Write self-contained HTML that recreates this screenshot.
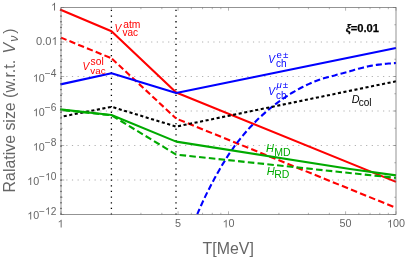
<!DOCTYPE html>
<html><head><meta charset="utf-8"><title>plot</title>
<style>
html,body{margin:0;padding:0;background:#fff;}
svg{display:block;}
text{font-family:"Liberation Sans",sans-serif;}
.tk{font-size:10.8px;fill:#666;}
.ax{font-size:15.9px;fill:#666;}
.it{font-style:italic;}
</style></head><body>
<svg width="407" height="260" viewBox="0 0 407 260" style="will-change:transform">
<defs><mask id="m" maskUnits="userSpaceOnUse" x="0" y="0" width="407" height="260"><rect width="407" height="260" fill="#fff"/></mask></defs>
<rect width="407" height="260" fill="#fff"/>
<g mask="url(#m)">
<g stroke="#b0b0b0" stroke-width="1" stroke-dasharray="1.2 4.457" stroke-dashoffset="-0.1" fill="none">
<line x1="60.5" y1="42.00" x2="396" y2="42.00"/>
<line x1="60.5" y1="76.50" x2="396" y2="76.50"/>
<line x1="60.5" y1="111.00" x2="396" y2="111.00"/>
<line x1="60.5" y1="145.50" x2="396" y2="145.50"/>
<line x1="60.5" y1="180.00" x2="396" y2="180.00"/>
</g>
<g stroke="#000" stroke-width="1.3" stroke-dasharray="1.3 4.357" fill="none">
<line x1="61" y1="214.75" x2="61" y2="7.5" stroke-width="1"/>
<line x1="111.4" y1="214.75" x2="111.4" y2="7.5"/>
<line x1="176" y1="214.75" x2="176" y2="7.5"/>
</g>
<g fill="none" stroke-width="2.1" stroke-linejoin="round">
<path stroke="#f00" d="M60,9.43 L111.5,31.2 L176.2,92.5 L396,181.9"/>
<path stroke="#f00" stroke-dasharray="6.3 3.15" stroke-dashoffset="0.35" d="M61,37.65 L111.5,58.3"/>
<path stroke="#f00" stroke-dasharray="6.15 3.05" stroke-dashoffset="-0.7" d="M111.5,58.3 L176.2,118.6"/>
<path stroke="#f00" stroke-dasharray="6.55 3.235" stroke-dashoffset="-2.7" d="M176.2,118.6 L396,207.8"/>
<path stroke="#00f" d="M60.5,84.4 L111.5,73.3 L176.2,93 L396,48"/>
<path stroke="#00f" stroke-dasharray="6.1 3.0" stroke-dashoffset="0.4" d="M197.3,214.1 L199.3,209.5 L201.3,205.0 L203.3,200.6 L205.3,196.4 L207.3,192.3 L209.3,188.4 L211.3,184.5 L213.3,180.8 L215.3,177.1 L217.3,173.6 L219.2,170.2 L221.1,166.8 L223.0,163.6 L225.0,160.5 L226.9,157.4 L228.8,154.4 L230.7,151.6 L232.7,148.8 L234.6,146.0 L236.6,143.4 L238.6,140.8 L240.6,138.3 L242.6,135.9 L244.6,133.5 L246.6,131.2 L248.6,128.9 L250.6,126.8 L252.6,124.7 L254.6,122.6 L256.6,120.6 L258.6,118.6 L260.6,116.7 L262.6,114.9 L264.6,113.1 L266.6,111.3 L268.6,109.6 L270.6,108.0 L272.6,106.4 L274.6,104.8 L276.6,103.3 L278.6,101.8 L280.6,100.4 L282.6,99.0 L284.6,97.6 L286.6,96.3 L288.6,95.0 L290.6,93.7 L292.6,92.5 L294.6,91.4 L296.6,90.2 L298.6,89.1 L300.6,88.0 L302.6,87.0 L304.6,86.0 L306.6,85.0 L308.6,84.1 L310.6,83.2 L312.6,82.3 L314.6,81.5 L316.6,80.7 L318.6,80.0 L320.6,79.3 L322.6,78.7 L324.6,78.1 L326.6,77.5 L328.6,76.9 L330.6,76.4 L332.6,75.9 L334.6,75.4 L336.6,74.8 L338.6,74.3 L340.6,73.8 L342.6,73.3 L344.6,72.7 L346.6,72.2 L348.6,71.6 L350.6,71.0 L352.6,70.4 L354.6,69.8 L356.6,69.3 L358.6,68.7 L360.6,68.2 L362.6,67.7 L364.6,67.2 L366.6,66.7 L368.6,66.3 L370.6,65.9 L372.6,65.5 L374.6,65.2 L376.6,64.9 L378.6,64.6 L380.6,64.4 L382.6,64.1 L384.6,63.9 L386.6,63.7 L388.6,63.5 L390.6,63.4 L392.6,63.2 L394.6,63.1 L396.0,63.0"/>
<path stroke="#000" stroke-dasharray="3.1 2.53" stroke-dashoffset="-2.75" d="M61,116.8 L111.5,106.8 L176.2,126.6 L396,81.3"/>
<path stroke="#00aa00" d="M60,109.4 L111.5,115 L176.2,141.6 L350,169 L396,175.4"/>
<path stroke="#00aa00" stroke-dasharray="6.55 3.25" stroke-dashoffset="-2.5" d="M61,109.9 L111.5,115.3 L176.2,154.6 L396,177.9"/>
</g>
<g stroke="#666" stroke-width="0.5" fill="none">
<line x1="61" y1="7.50" x2="64.2" y2="7.50"/>
<line x1="396" y1="7.50" x2="392.8" y2="7.50"/>
<line x1="61" y1="24.75" x2="62.7" y2="24.75"/>
<line x1="396" y1="24.75" x2="394.3" y2="24.75"/>
<line x1="61" y1="42.00" x2="64.2" y2="42.00"/>
<line x1="396" y1="42.00" x2="392.8" y2="42.00"/>
<line x1="61" y1="59.25" x2="62.7" y2="59.25"/>
<line x1="396" y1="59.25" x2="394.3" y2="59.25"/>
<line x1="61" y1="76.50" x2="64.2" y2="76.50"/>
<line x1="396" y1="76.50" x2="392.8" y2="76.50"/>
<line x1="61" y1="93.75" x2="62.7" y2="93.75"/>
<line x1="396" y1="93.75" x2="394.3" y2="93.75"/>
<line x1="61" y1="111.00" x2="64.2" y2="111.00"/>
<line x1="396" y1="111.00" x2="392.8" y2="111.00"/>
<line x1="61" y1="128.25" x2="62.7" y2="128.25"/>
<line x1="396" y1="128.25" x2="394.3" y2="128.25"/>
<line x1="61" y1="145.50" x2="64.2" y2="145.50"/>
<line x1="396" y1="145.50" x2="392.8" y2="145.50"/>
<line x1="61" y1="162.75" x2="62.7" y2="162.75"/>
<line x1="396" y1="162.75" x2="394.3" y2="162.75"/>
<line x1="61" y1="180.00" x2="64.2" y2="180.00"/>
<line x1="396" y1="180.00" x2="392.8" y2="180.00"/>
<line x1="61" y1="197.25" x2="62.7" y2="197.25"/>
<line x1="396" y1="197.25" x2="394.3" y2="197.25"/>
<line x1="61" y1="214.50" x2="64.2" y2="214.50"/>
<line x1="396" y1="214.50" x2="392.8" y2="214.50"/>
<line x1="61.00" y1="214.5" x2="61.00" y2="211.3"/>
<line x1="61.00" y1="7.5" x2="61.00" y2="10.7"/>
<line x1="111.42" y1="214.5" x2="111.42" y2="212.8"/>
<line x1="111.42" y1="7.5" x2="111.42" y2="9.2"/>
<line x1="140.92" y1="214.5" x2="140.92" y2="212.8"/>
<line x1="140.92" y1="7.5" x2="140.92" y2="9.2"/>
<line x1="161.85" y1="214.5" x2="161.85" y2="212.8"/>
<line x1="161.85" y1="7.5" x2="161.85" y2="9.2"/>
<line x1="178.08" y1="214.5" x2="178.08" y2="211.3"/>
<line x1="178.08" y1="7.5" x2="178.08" y2="10.7"/>
<line x1="191.34" y1="214.5" x2="191.34" y2="212.8"/>
<line x1="191.34" y1="7.5" x2="191.34" y2="9.2"/>
<line x1="202.55" y1="214.5" x2="202.55" y2="212.8"/>
<line x1="202.55" y1="7.5" x2="202.55" y2="9.2"/>
<line x1="212.27" y1="214.5" x2="212.27" y2="212.8"/>
<line x1="212.27" y1="7.5" x2="212.27" y2="9.2"/>
<line x1="220.84" y1="214.5" x2="220.84" y2="212.8"/>
<line x1="220.84" y1="7.5" x2="220.84" y2="9.2"/>
<line x1="228.50" y1="214.5" x2="228.50" y2="211.3"/>
<line x1="228.50" y1="7.5" x2="228.50" y2="10.7"/>
<line x1="278.92" y1="214.5" x2="278.92" y2="212.8"/>
<line x1="278.92" y1="7.5" x2="278.92" y2="9.2"/>
<line x1="308.42" y1="214.5" x2="308.42" y2="212.8"/>
<line x1="308.42" y1="7.5" x2="308.42" y2="9.2"/>
<line x1="329.35" y1="214.5" x2="329.35" y2="212.8"/>
<line x1="329.35" y1="7.5" x2="329.35" y2="9.2"/>
<line x1="345.58" y1="214.5" x2="345.58" y2="211.3"/>
<line x1="345.58" y1="7.5" x2="345.58" y2="10.7"/>
<line x1="358.84" y1="214.5" x2="358.84" y2="212.8"/>
<line x1="358.84" y1="7.5" x2="358.84" y2="9.2"/>
<line x1="370.05" y1="214.5" x2="370.05" y2="212.8"/>
<line x1="370.05" y1="7.5" x2="370.05" y2="9.2"/>
<line x1="379.77" y1="214.5" x2="379.77" y2="212.8"/>
<line x1="379.77" y1="7.5" x2="379.77" y2="9.2"/>
<line x1="388.34" y1="214.5" x2="388.34" y2="212.8"/>
<line x1="388.34" y1="7.5" x2="388.34" y2="9.2"/>
<line x1="396.00" y1="214.5" x2="396.00" y2="211.3"/>
<line x1="396.00" y1="7.5" x2="396.00" y2="10.7"/>
</g>
<rect x="61" y="7.5" width="335" height="207" fill="none" stroke="#666" stroke-width="0.7"/>
<g class="tk" fill="#666">
<path d="M763 0H583V1147Q518 1085 412.5 1023Q307 961 223 930V1104Q373 1174.5 485 1275Q597 1375.5 644 1470H763Z" transform="translate(51.00,10.60) scale(0.00527,-0.00527)"/><text x="36.10" y="44.90" font-size="11.1px">0</text><text x="42.27" y="44.90" font-size="11.1px">.</text><text x="45.36" y="44.90" font-size="11.1px">0</text><path d="M763 0H583V1147Q518 1085 412.5 1023Q307 961 223 930V1104Q373 1174.5 485 1275Q597 1375.5 644 1470H763Z" transform="translate(51.53,44.90) scale(0.00542,-0.00542)"/><path d="M763 0H583V1147Q518 1085 412.5 1023Q307 961 223 930V1104Q373 1174.5 485 1275Q597 1375.5 644 1470H763Z" transform="translate(32.87,81.80) scale(0.00522,-0.00522)"/><text x="38.82" y="81.80" font-size="10.7px">0</text><text x="44.77" y="77.00" font-size="10.2px">−</text><text x="50.73" y="77.00" font-size="10.2px">4</text>
<path d="M763 0H583V1147Q518 1085 412.5 1023Q307 961 223 930V1104Q373 1174.5 485 1275Q597 1375.5 644 1470H763Z" transform="translate(32.87,116.20) scale(0.00522,-0.00522)"/><text x="38.82" y="116.20" font-size="10.7px">0</text><text x="44.77" y="111.40" font-size="10.2px">−</text><text x="50.73" y="111.40" font-size="10.2px">6</text>
<path d="M763 0H583V1147Q518 1085 412.5 1023Q307 961 223 930V1104Q373 1174.5 485 1275Q597 1375.5 644 1470H763Z" transform="translate(32.87,150.60) scale(0.00522,-0.00522)"/><text x="38.82" y="150.60" font-size="10.7px">0</text><text x="44.77" y="145.80" font-size="10.2px">−</text><text x="50.73" y="145.80" font-size="10.2px">8</text>
<path d="M763 0H583V1147Q518 1085 412.5 1023Q307 961 223 930V1104Q373 1174.5 485 1275Q597 1375.5 644 1470H763Z" transform="translate(27.20,185.00) scale(0.00522,-0.00522)"/><text x="33.15" y="185.00" font-size="10.7px">0</text><text x="39.10" y="180.20" font-size="10.2px">−</text><path d="M763 0H583V1147Q518 1085 412.5 1023Q307 961 223 930V1104Q373 1174.5 485 1275Q597 1375.5 644 1470H763Z" transform="translate(45.06,180.20) scale(0.00498,-0.00498)"/><text x="50.73" y="180.20" font-size="10.2px">0</text>
<path d="M763 0H583V1147Q518 1085 412.5 1023Q307 961 223 930V1104Q373 1174.5 485 1275Q597 1375.5 644 1470H763Z" transform="translate(27.20,219.40) scale(0.00522,-0.00522)"/><text x="33.15" y="219.40" font-size="10.7px">0</text><text x="39.10" y="214.60" font-size="10.2px">−</text><path d="M763 0H583V1147Q518 1085 412.5 1023Q307 961 223 930V1104Q373 1174.5 485 1275Q597 1375.5 644 1470H763Z" transform="translate(45.06,214.60) scale(0.00498,-0.00498)"/><text x="50.73" y="214.60" font-size="10.2px">2</text>
<path d="M763 0H583V1147Q518 1085 412.5 1023Q307 961 223 930V1104Q373 1174.5 485 1275Q597 1375.5 644 1470H763Z" transform="translate(57.60,227.40) scale(0.00527,-0.00527)"/>
<text x="175.00" y="227.40" font-size="10.8px">5</text>
<path d="M763 0H583V1147Q518 1085 412.5 1023Q307 961 223 930V1104Q373 1174.5 485 1275Q597 1375.5 644 1470H763Z" transform="translate(222.60,227.40) scale(0.00527,-0.00527)"/><text x="228.60" y="227.40" font-size="10.8px">0</text>
<text x="339.60" y="227.40" font-size="10.8px">5</text><text x="345.60" y="227.40" font-size="10.8px">0</text>
<path d="M763 0H583V1147Q518 1085 412.5 1023Q307 961 223 930V1104Q373 1174.5 485 1275Q597 1375.5 644 1470H763Z" transform="translate(386.99,227.40) scale(0.00527,-0.00527)"/><text x="393.00" y="227.40" font-size="10.8px">0</text><text x="399.00" y="227.40" font-size="10.8px">0</text>
</g>
<text class="ax" x="202.6" y="254.3" font-size="16.1px">T[MeV]</text>
<text class="ax" transform="translate(14.6,192.4) rotate(-90)">Ralative size (w.r.t. <tspan class="it" dx="2.1">V</tspan><tspan class="it" font-size="12.3px" dy="3.2" dx="1">ν</tspan><tspan dy="-3.2" dx="2">)</tspan></text>
<!-- curve labels -->
<g font-size="10.2px" fill="#f00">
<text x="114.5" y="31.9"><tspan class="it">V</tspan></text>
<text x="123.2" y="27.5" font-size="10.3px">atm</text>
<text x="122.5" y="36.3" font-size="10px">vac</text>
<text x="82.4" y="69.6"><tspan class="it">V</tspan></text>
<text x="90.5" y="64.5" font-size="10.3px">sol</text>
<text x="90.3" y="73.9" font-size="9.8px">vac</text>
</g>
<g font-size="10.2px" fill="#00f">
<text x="268.3" y="62.8"><tspan class="it">V</tspan></text>
<text x="276.4" y="57.9" font-size="9.6px">e<tspan dx="1.2" font-size="9.8px">±</tspan></text>
<text x="276" y="67.2" font-size="10px">ch</text>
<text x="268.3" y="94.8"><tspan class="it">V</tspan></text>
<text x="276.4" y="87.8" font-size="9.6px"><tspan class="it">μ</tspan><tspan dx="1.2" font-size="9.8px">±</tspan></text>
<text x="276" y="99.4" font-size="10px">ch</text>
</g>
<g font-size="10.2px" fill="#00aa00">
<text x="265.9" y="152.4" font-size="11px"><tspan class="it">H</tspan></text>
<text x="274.2" y="156" font-size="10.5px">MD</text>
<text x="266.8" y="174.6" font-size="11px"><tspan class="it">H</tspan></text>
<text x="274.2" y="178.4" font-size="10.5px">RD</text>
</g>
<g font-size="10.2px" fill="#000">
<text x="351.7" y="102.9" font-size="10.8px"><tspan class="it">D</tspan></text>
<text x="358.7" y="105.5" font-size="10px">col</text>
<text x="345.7" y="31.5" font-size="11.2px" font-weight="bold" stroke="#000" stroke-width="0.25"><tspan class="it">ξ</tspan>=0.01</text>
</g>
</g>
</svg>
</body></html>
